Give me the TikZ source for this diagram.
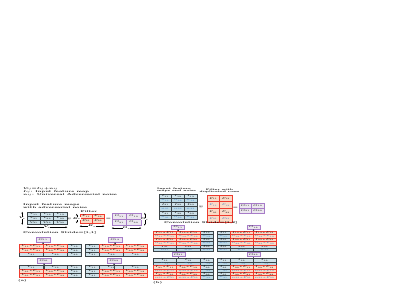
\RequirePackage{fix-cm}
\documentclass[tikz,border=0pt]{standalone}
\usepackage{amsmath,amssymb}
\usepackage{tikz}
\usetikzlibrary{arrows.meta,positioning,calc}
\definecolor{cellLine}{HTML}{3C4448}
\definecolor{cellFill}{HTML}{CFE2EA}
\definecolor{noiseFill}{HTML}{BCDAE7}
\definecolor{filtLine}{HTML}{EE3B2E}
\definecolor{filtFill}{HTML}{FBDAC6}
\definecolor{outLine}{HTML}{A77CC8}
\definecolor{outFill}{HTML}{ECE7EF}
\definecolor{noiseText}{HTML}{3B78C2}

\newcommand\agrid[5]{%
  \foreach \pass in {0,1}{
  \foreach \rr in {1,2,3}{
    \foreach \cc/\xc/\wc in {#3}{
      \pgfmathtruncatemacro\frow{\rr-#4+1}
      \pgfmathtruncatemacro\fcol{\cc-#5+1}
      \pgfmathtruncatemacro\hit{(\frow>0)&&(\frow<3)&&(\fcol>0)&&(\fcol<3)}
      \ifnum\hit=\pass
        \ifnum\hit=1
          \node[fcell,sz={\wc}{4}] (#1\rr\cc) at (\xc,{#2+4*\rr-2}) {$V_{\rr\cc}{*}F_{\frow\fcol}$};
        \else
          \node[vcell,sz={\wc}{4}] (#1\rr\cc) at (\xc,{#2+4*\rr-2}) {$V_{\rr\cc}$};
        \fi
      \fi
    }}}}

\newcommand\bgrid[5]{%
  \foreach \pass in {0,1}{
  \foreach \rr in {1,2,3}{
    \foreach \cc/\xc/\wc in {#3}{
      \pgfmathtruncatemacro\frow{\rr-#4+1}
      \pgfmathtruncatemacro\fcol{\cc-#5+1}
      \pgfmathtruncatemacro\hit{(\frow>0)&&(\frow<3)&&(\fcol>0)&&(\fcol<3)}
      \ifnum\hit=\pass
        \ifnum\hit=1
          \node[fcell,sz={\wc}{3.45}] (#1I\rr\cc) at (\xc,{#2+6.9*\rr-5.175}) {$I_{\rr\cc}{*}F_{\frow\fcol}$};
          \node[fcell,text=noiseText,sz={\wc}{3.45}] (#1n\rr\cc) at (\xc,{#2+6.9*\rr-1.725}) {$n_{\rr\cc}{*}F_{\frow\fcol}$};
        \else
          \node[vcell,sz={\wc}{3.45}] (#1I\rr\cc) at (\xc,{#2+6.9*\rr-5.175}) {$I_{\rr\cc}$};
          \node[ncell,sz={\wc}{3.45}] (#1n\rr\cc) at (\xc,{#2+6.9*\rr-1.725}) {$n_{\rr\cc}$};
        \fi
      \fi
    }}}}

\begin{document}
\begin{tikzpicture}[
    yscale=0.6,x=1pt,y=-1.6667pt,
    >={Stealth[length=1.8pt,width=1.6pt]},
    every node/.style={inner sep=0pt,transform shape},
    sz/.style 2 args={minimum width=#1,minimum height={#2/0.6}},
    lbl/.style={font=\fontsize{4.4}{4.8}\selectfont\bfseries\boldmath,align=left},
    slbl/.style={lbl,font=\fontsize{3.8}{4.6}\selectfont\bfseries},
    vcell/.style={draw=cellLine,fill=cellFill,line width=0.55pt,font=\fontsize{4.3}{4.3}\selectfont},
    ncell/.style={vcell,fill=noiseFill,text=noiseText},
    fcell/.style={vcell,draw=filtLine,fill=filtFill},
    ocell/.style={vcell,draw=outLine,fill=outFill},
    dim/.style={<->,line width=0.3pt},
    pick/.style={->,line width=0.5pt,draw=cellLine}
]
    \useasboundingbox (0,0) rectangle (407,292);

    % (a) single feature map
    \node[lbl,anchor=north west] (akey) at (23,187.3) {$V_{ij}$=$I_{ij}$+$n_{ij}$\\$I_{ij}$: Input feature map\\$n_{ij}$: Universal Adversarial noise};
    \node[lbl,anchor=north west] (ainlbl) at (23,203.5) {Input feature maps\\with adversarial noise};

    \foreach \rr in {1,2,3}
        \foreach \cc in {1,2,3}
            \node[vcell,sz={13.33}{4.17}] (ain\rr\cc) at ({27+13.33*\cc-6.67},{212+4.17*\rr-2.08}) {$V_{\rr\cc}$};
    \draw[dim] ($(ain11.north west)+(-4.5,0)$) -- ($(ain31.south west)+(-4.5,0)$) node[midway,fill=white,lbl]{$V_r$};
    \draw[dim] ($(ain31.south west)+(0,2.5)$) -- ($(ain33.south east)+(0,2.5)$) node[midway,fill=white,lbl]{$V_c$};

    \node[lbl] (aconv) at (69,218.5) {$\circledast$};

    \node[lbl,anchor=west] (afiltlbl) at (80.5,211.8) {Filter};
    \foreach \rr in {1,2}
        \foreach \cc in {1,2}
            \node[fcell,sz={12}{4.5}] (af\rr\cc) at ({80+12*\cc-6},{214+4.5*\rr-2.25}) {$F_{\rr\cc}$};
    \draw[dim] ($(af11.north west)+(-3,0)$) -- ($(af21.south west)+(-3,0)$) node[midway,fill=white,lbl]{$K_r$};
    \draw[dim] ($(af21.south west)+(0,3)$) -- ($(af22.south east)+(0,3)$) node[midway,fill=white,lbl]{$K_c$};

    \node[lbl] (aeq) at (108.5,218.8) {=};

    \foreach \rr in {1,2}
        \foreach \cc in {1,2}
            \node[ocell,sz={14.5}{6.2}] (ao\rr\cc) at ({112+14.5*\cc-7.25},{213+6.2*\rr-3.1}) {$O_{\rr\cc}$};
    \draw[dim] ($(ao12.north east)+(3.5,0)$) -- ($(ao22.south east)+(3.5,0)$) node[midway,fill=white,lbl]{$O_r$};
    \draw[dim] ($(ao21.south west)+(0,2.5)$) -- ($(ao22.south east)+(0,2.5)$) node[midway,fill=white,lbl]{$O_c$};

    \node[lbl,anchor=west] (astride) at (23,233) {Convolution Stride=[1,1]};

    \agrid{atl}{244}{1/31/24,2/55/24,3/74/14}{1}{1}
    \agrid{atr}{244}{1/92/14,2/111/24,3/135/24}{1}{2}
    \agrid{abl}{265}{1/31/24,2/55/24,3/74/14}{2}{1}
    \agrid{abr}{265}{1/92/14,2/111/24,3/135/24}{2}{2}

    \node[ocell,sz={14}{5}] (aos11) at (43,239.5) {$O_{11}$};
    \node[ocell,sz={14}{5}] (aos12) at (115,239.5) {$O_{12}$};
    \node[ocell,sz={14}{5}] (aos21) at (44,260.5) {$O_{21}$};
    \node[ocell,sz={14}{5}] (aos22) at (114,260.5) {$O_{22}$};
    \draw[pick] (aos11 |- atl11.north) -- (aos11);
    \draw[pick] (aos12 |- atr12.north) -- (aos12);
    \draw[pick] (aos21 |- abl21.north) -- (aos21);
    \draw[pick] (aos22 |- abr22.north) -- (aos22);

    \node[lbl,anchor=west] (acap) at (18,281) {(a)};

    % (b) feature map and noise kept apart
    \node[slbl,anchor=north west] (binlbl) at (157,187.5) {Input feature\\maps and noise};
    \foreach \rr in {1,2,3}
        \foreach \cc in {1,2,3}{
            \node[vcell,sz={12.67}{4.25}] (bI\rr\cc) at ({159+12.67*\cc-6.33},{194+8.5*\rr-6.375}) {$I_{\rr\cc}$};
            \node[ncell,sz={12.67}{4.25}] (bn\rr\cc) at ({159+12.67*\cc-6.33},{194+8.5*\rr-2.125}) {$n_{\rr\cc}$};
        }

    \node[lbl] (bconv) at (201,207) {$\circledast$};

    \node[slbl,anchor=north,align=center] (bfiltlbl) at (219.5,188.3) {Filter with\\duplicated rows};
    \foreach \rr in {1,2}
        \foreach \cc in {1,2}{
            \node[fcell,sz={12.5}{6.75}] (bf\rr\cc) at ({207+12.5*\cc-6.25},{195+13.5*\rr-10.125}) {$F_{\rr\cc}$};
            \node[fcell,text=noiseText,sz={12.5}{6.75}] (bfd\rr\cc) at ({207+12.5*\cc-6.25},{195+13.5*\rr-3.375}) {$F_{\rr\cc}$};
        }

    \node[lbl] (beq) at (235.5,208) {=};

    \foreach \rr in {1,2}
        \foreach \cc in {1,2}
            \node[ocell,sz={12.5}{5}] (bo\rr\cc) at ({239+12.5*\cc-6.25},{203+5*\rr-2.5}) {$O_{\rr\cc}$};

    \node[lbl,anchor=west] (bstride) at (164,222.6) {Convolution Stride=[1,2]};

    \bgrid{btl}{231}{1/164.75/23.5,2/188.25/23.5,3/206.5/13}{1}{1}
    \bgrid{btr}{231}{1/223.5/13,2/241.5/23,3/264.5/23}{1}{2}
    \bgrid{bbl}{258.5}{1/164.75/23.5,2/188.25/23.5,3/206.5/13}{2}{1}
    \bgrid{bbr}{258.5}{1/223.5/13,2/241.5/23,3/264.5/23}{2}{2}

    \node[ocell,sz={13}{4}] (bos11) at (178,227) {$O_{11}$};
    \node[ocell,sz={13}{4}] (bos12) at (253.5,227) {$O_{12}$};
    \node[ocell,sz={13}{4}] (bos21) at (178.5,254.7) {$O_{21}$};
    \node[ocell,sz={13}{4}] (bos22) at (253.5,254.7) {$O_{22}$};
    \draw[pick] (bos11 |- btlI11.north) -- (bos11);
    \draw[pick] (bos12 |- btrI12.north) -- (bos12);
    \draw[pick] (bos21 |- bblI11.north) -- (bos21);
    \draw[pick] (bos22 |- bbrI12.north) -- (bos22);

    \node[lbl,anchor=west] (bcap) at (153,283) {(b)};
\end{tikzpicture}
\end{document}
